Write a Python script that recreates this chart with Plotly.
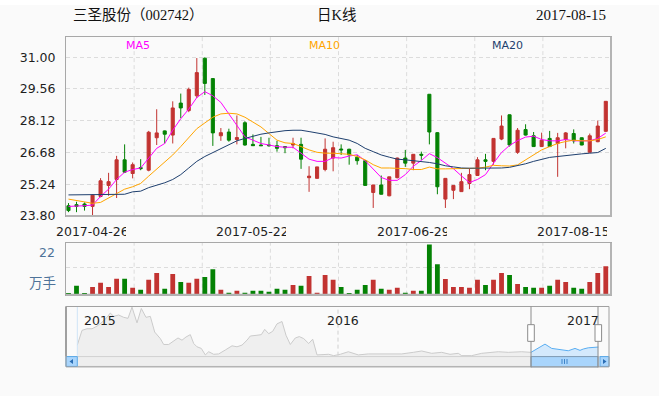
import plotly.graph_objects as go

# ---------------- data ----------------
opens = [24.27, 24.32, 24.35, 24.24, 24.69, 25.19, 25.46, 26.35, 25.73, 26.00,
         25.88, 27.35, 27.66, 27.47, 28.92, 28.58, 29.25, 30.95, 30.03, 27.44,
         27.61, 27.27, 28.03, 27.05, 27.02, 27.02, 26.99, 26.95, 27.02, 27.05,
         25.54, 25.51, 25.91, 26.43, 26.84, 26.83, 26.47, 26.31, 24.87, 25.21,
         24.72, 25.54, 26.43, 26.20, 26.60, 29.32, 27.58, 24.57, 24.97, 24.91,
         25.28, 25.64, 26.35, 26.28, 27.29, 28.39, 26.69, 27.72, 27.44, 26.95,
         27.32, 27.09, 27.27, 27.54, 27.35, 26.69, 27.17, 27.64]
highs = [24.39, 24.45, 24.42, 24.78, 25.52, 25.76, 26.53, 27.05, 26.23, 26.38,
         27.66, 28.64, 27.68, 29.00, 29.35, 29.62, 30.96, 30.99, 30.05, 27.79,
         27.76, 28.36, 28.10, 27.50, 27.39, 27.35, 27.21, 26.96, 27.35, 27.35,
         26.06, 26.03, 27.32, 27.17, 27.05, 26.85, 26.57, 26.33, 25.22, 25.64,
         25.58, 26.45, 26.80, 26.60, 26.72, 29.33, 27.61, 25.51, 25.19, 25.76,
         25.98, 26.47, 26.62, 27.33, 28.36, 28.40, 27.79, 27.96, 27.61, 27.58,
         27.66, 27.57, 27.61, 27.73, 27.36, 27.54, 28.13, 29.00]
lows = [23.98, 23.98, 24.05, 23.80, 24.65, 24.72, 24.62, 25.75, 25.51, 25.88,
        25.83, 27.02, 27.09, 27.09, 28.24, 28.51, 29.15, 29.29, 26.98, 27.21,
        27.17, 27.05, 26.99, 26.98, 26.98, 26.95, 26.72, 26.65, 26.87, 25.94,
        24.90, 25.51, 25.83, 25.83, 26.57, 26.13, 26.13, 25.19, 24.17, 24.78,
        24.70, 25.51, 26.03, 25.88, 26.35, 27.05, 24.79, 24.17, 24.57, 24.90,
        25.02, 25.62, 25.88, 26.13, 27.24, 26.95, 26.62, 27.45, 26.94, 26.94,
        26.94, 25.58, 26.87, 27.09, 27.01, 26.68, 27.15, 27.62]
closes = [24.05, 24.24, 24.24, 24.75, 25.40, 25.36, 26.35, 25.79, 26.13, 25.95,
          27.60, 27.57, 27.51, 28.70, 28.70, 29.54, 30.30, 29.81, 27.57, 27.58,
          27.24, 27.36, 27.02, 26.99, 26.99, 26.99, 26.87, 26.90, 27.09, 26.38,
          25.61, 26.03, 26.83, 26.90, 26.80, 26.57, 26.31, 25.19, 25.21, 24.79,
          25.58, 26.43, 26.20, 26.60, 26.56, 27.61, 25.13, 25.51, 25.19, 25.36,
          25.68, 26.35, 26.28, 27.32, 27.88, 27.02, 27.69, 27.47, 26.95, 27.24,
          26.95, 27.35, 27.57, 27.21, 27.02, 27.44, 27.88, 29.00]
volumes = [0.43, 3.9, 0.43, 3.4, 5.2, 3.4, 7.0, 7.0, 3.1, 2.2,
           6.6, 9.5, 2.6, 9.1, 5.6, 5.2, 7.0, 7.8, 11.2, 2.2,
           0.9, 1.7, 0.9, 1.7, 1.7, 1.3, 2.6, 2.2, 4.3, 3.9,
           8.2, 0.9, 8.6, 6.5, 3.4, 0.43, 2.2, 4.3, 6.5, 2.6,
           2.2, 3.0, 0.9, 1.7, 1.7, 22.0, 13.4, 6.9, 3.4, 3.4,
           3.0, 6.5, 4.3, 6.5, 9.5, 8.6, 4.7, 3.4, 3.0, 3.0,
           3.9, 6.5, 5.6, 3.0, 2.6, 5.6, 9.5, 12.5]
ma5 = [24.24, 24.24, 24.27, 24.30, 24.69, 25.02, 25.46, 25.79, 25.91, 25.98,
       26.43, 26.87, 27.09, 27.69, 28.21, 28.65, 29.17, 29.44, 29.25, 28.95,
       28.43, 27.91, 27.39, 27.24, 27.09, 27.02, 26.95, 26.92, 26.92, 26.65,
       26.38, 26.28, 26.28, 26.45, 26.43, 26.52, 26.58, 26.31, 25.91, 25.55,
       25.42, 25.42, 25.68, 26.06, 26.32, 26.63, 26.45, 26.20, 25.95, 25.62,
       25.32, 25.46, 25.68, 26.20, 26.68, 27.00, 27.22, 27.38, 27.42, 27.27,
       27.21, 27.21, 27.27, 27.21, 27.21, 27.21, 27.32, 27.56]
ma10 = [24.57, 24.50, 24.42, 24.38, 24.42, 24.62, 24.82, 25.02, 25.13, 25.28,
        25.61, 25.94, 26.28, 26.57, 26.95, 27.36, 27.76, 28.02, 28.28, 28.43,
        28.46, 28.43, 28.28, 28.06, 27.84, 27.54, 27.24, 27.12, 27.09, 26.95,
        26.80, 26.69, 26.65, 26.65, 26.62, 26.60, 26.50, 26.35, 26.13, 25.98,
        25.98, 25.98, 25.95, 25.91, 25.91, 26.02, 25.94, 25.94, 25.94, 25.94,
        25.94, 25.97, 26.02, 26.10, 26.08, 26.07, 26.12, 26.35, 26.57, 26.80,
        26.95, 27.09, 27.18, 27.24, 27.21, 27.21, 27.27, 27.39]
ma20 = [24.76, 24.76, 24.76, 24.76, 24.76, 24.76, 24.76, 24.79, 24.90, 24.93,
        25.09, 25.19, 25.31, 25.46, 25.68, 25.98, 26.28, 26.50, 26.68, 26.87,
        27.02, 27.21, 27.32, 27.42, 27.51, 27.57, 27.63, 27.67, 27.69, 27.69,
        27.63, 27.58, 27.50, 27.39, 27.32, 27.24, 27.09, 26.87, 26.72, 26.57,
        26.47, 26.38, 26.35, 26.32, 26.28, 26.23, 26.17, 26.08, 26.03, 25.98,
        25.97, 25.97, 25.97, 25.97, 25.98, 26.01, 26.08, 26.17, 26.28, 26.38,
        26.46, 26.50, 26.55, 26.59, 26.62, 26.65, 26.68, 26.87]

price_ticks = [23.80, 25.24, 26.68, 28.12, 29.56, 31.00]
date_labels = ["2017-04-26", "2017-05-22", "2017-06-29", "2017-08-15"]
date_label_idx = [0, 20, 40, 60]

# navigator (full history, trading-day index vs. price)
nav_x = [11.3, 16, 21, 26, 31, 36, 41, 44.3, 47.7, 52.7, 57.7, 62, 66, 71, 75.3, 80, 84.3,
         88.7, 94.3, 97.7, 102.7, 107.7, 112, 116, 120, 124.3, 127.7, 131, 135.3, 139.3,
         142.7, 147.7, 152.7, 159.3, 166, 171, 176, 181, 184.3, 191, 195.3, 198.7, 202.7,
         206.7, 211, 216, 220, 224.3, 229.3, 233.3, 237.7, 242.7, 246.7, 251, 259.3, 262.7,
         267.7, 274.3, 282.3, 292.3, 302.3, 314, 325.7, 335.7, 347.3, 355.7, 365.7, 375.7,
         384, 392.3, 395.7, 405.7, 415.7, 432.3, 442.3, 455.7, 465]
nav_y = [29.2, 41.2, 42.5, 42.5, 44.6, 47.8, 51.8, 55.3, 52.6, 53.7, 51.8, 51.0, 60.1, 47.3,
         59.0, 51.8, 52.6, 39.8, 34.5, 29.7, 29.7, 32.4, 35.0, 33.2, 35.8, 37.7, 30.5, 27.8,
         26.5, 21.2, 23.8, 21.7, 22.0, 25.2, 28.6, 27.8, 29.2, 33.2, 36.6, 37.2, 37.7, 42.0,
         38.5, 40.4, 46.5, 48.4, 37.2, 29.7, 35.0, 36.1, 34.5, 30.5, 34.0, 21.2, 21.2, 21.7,
         20.6, 21.7, 23.8, 21.2, 22.0, 22.0, 21.7, 22.0, 23.3, 24.4, 22.5, 23.3, 21.7, 22.5,
         20.6, 20.6, 22.5, 23.8, 23.3, 23.8, 23.3]
nav_sel_x = [465, 479, 485.7, 495.7, 502.3, 509, 514, 517.3, 522.3, 532.3]
nav_sel_y = [23.3, 30.0, 26.5, 25.2, 24.6, 26.5, 24.9, 26.0, 27.0, 27.6]
nav_years = ["2015", "2016", "2017"]

# ---------------- styling ----------------
W, H = 659, 396
def px(x): return x / W
def py(y): return 1 - y / H

RED = "#c23331"
GREEN = "#048204"
MA5C, MA10C, MA20C = "#ff00ff", "#ffa500", "#1e3f6e"
GRID = "#dcdcdc"
FRAME = "#a8a8a8"
BG = "#fafafa"
TXT = "#1e1e1e"
BLUE_TXT = "#4e7399"
DASH = "4px,3px"

n = len(closes)
idx = list(range(n))

fig = go.Figure()
fig.add_trace(go.Candlestick(
    x=idx, open=opens, high=highs, low=lows, close=closes,
    increasing=dict(line=dict(color=RED, width=1), fillcolor=RED),
    decreasing=dict(line=dict(color=GREEN, width=1), fillcolor=GREEN),
    whiskerwidth=0, xaxis="x", yaxis="y", showlegend=False, hoverinfo="skip"))
for vals, col in [(ma5, MA5C), (ma10, MA10C), (ma20, MA20C)]:
    fig.add_trace(go.Scatter(x=idx, y=vals, mode="lines", line=dict(color=col, width=1),
                             xaxis="x", yaxis="y", showlegend=False, hoverinfo="skip"))

vol_colors = [RED if c >= o else GREEN for o, c in zip(opens, closes)]
fig.add_trace(go.Bar(x=idx, y=volumes, width=0.6, marker=dict(color=vol_colors, line=dict(width=0)),
                     xaxis="x2", yaxis="y2", showlegend=False, hoverinfo="skip"))

fig.add_trace(go.Scatter(x=nav_x, y=nav_y, mode="lines", fill="tozeroy", fillcolor="#efefef",
                         line=dict(color="#cbcbcb", width=1), xaxis="x3", yaxis="y3",
                         showlegend=False, hoverinfo="skip"))
fig.add_trace(go.Scatter(x=nav_sel_x, y=nav_sel_y, mode="lines", fill="tozeroy", fillcolor="#d4e9fc",
                         line=dict(color="#5aaef2", width=1), xaxis="x3", yaxis="y3",
                         showlegend=False, hoverinfo="skip"))

xr = [-0.31, 67.65]
common_x = dict(range=xr, showgrid=False, zeroline=False, showticklabels=False,
                showline=True, mirror=True, linecolor=FRAME, linewidth=1, fixedrange=True)

fig.update_layout(
    width=W, height=H, autosize=False,
    margin=dict(l=0, r=0, t=0, b=0),
    paper_bgcolor=BG, plot_bgcolor=BG,
    boxgap=0.45,
    xaxis=dict(domain=[px(66), px(611)], anchor="y", rangeslider=dict(visible=False), **common_x),
    yaxis=dict(domain=[py(220), py(37.3)], range=[23.80, 31.93], anchor="x",
               tickvals=price_ticks, ticktext=[f"{v:.2f}" for v in price_ticks],
               showgrid=True, gridcolor=GRID, griddash=DASH, gridwidth=1, zeroline=False,
               showline=True, mirror=True, linecolor=FRAME, linewidth=1, ticks="",
               ticklabelstandoff=7, tickfont=dict(family="DejaVu Sans", size=12.5, color=TXT)),
    xaxis2=dict(domain=[px(66), px(611)], anchor="y2", **common_x),
    yaxis2=dict(domain=[py(300), py(247.3)], range=[0, 22.7], anchor="x2",
                tickvals=[11.9], showticklabels=False, showgrid=True, gridcolor=GRID,
                griddash=DASH, zeroline=False, showline=True, mirror=True,
                linecolor=FRAME, linewidth=1, ticks=""),
    xaxis3=dict(domain=[px(66), px(609)], anchor="y3", range=[0, 543], visible=False),
    yaxis3=dict(domain=[py(362.3), py(312)], anchor="x3", range=[20.4, 60.64], visible=False),
)

shapes = []
# white top strip
shapes.append(dict(type="rect", xref="paper", yref="paper", x0=0, x1=1, y0=py(5), y1=1,
                   fillcolor="#ffffff", line=dict(width=0), layer="below"))
# vertical dashed grid (8 divisions)
for k in range(1, 8):
    for xa, ya in [("x", "y"), ("x2", "y2")]:
        shapes.append(dict(type="line", xref=f"{xa} domain", yref=f"{ya} domain",
                           x0=k / 8, x1=k / 8, y0=0, y1=1,
                           line=dict(color=GRID, width=1, dash=DASH), layer="below"))
# heavier right / bottom edges of main & volume panels
for (top, bot) in [(37.3, 220), (247.3, 300)]:
    shapes.append(dict(type="line", xref="paper", yref="paper", x0=px(611), x1=px(611),
                       y0=py(bot), y1=py(top), line=dict(color="#b4b4b4", width=2)))
    shapes.append(dict(type="line", xref="paper", yref="paper", x0=px(66), x1=px(612),
                       y0=py(bot), y1=py(bot), line=dict(color="#b4b4b4", width=2)))

# navigator decorations
shapes.append(dict(type="line", xref="paper", yref="paper", x0=px(338), x1=px(338),
                   y0=py(362), y1=py(312), line=dict(color="#d0d0d0", width=1, dash=DASH)))
shapes.append(dict(type="line", xref="paper", yref="paper", x0=px(77.3), x1=px(77.3),
                   y0=py(362), y1=py(312), line=dict(color="#cfe4f7", width=1)))
# scrollbar track
shapes.append(dict(type="rect", xref="paper", yref="paper", x0=px(66), x1=px(609),
                   y0=py(373), y1=py(363), fillcolor="#eeeeee", line=dict(color="#d0d0d0", width=1)))
# scrollbar thumb
shapes.append(dict(type="rect", xref="paper", yref="paper", x0=px(531), x1=px(598),
                   y0=py(373.5), y1=py(363), fillcolor="#a9d5fc", line=dict(color="#7f9bb5", width=1)))
for gx in [562, 564.5, 567]:
    shapes.append(dict(type="line", xref="paper", yref="paper", x0=px(gx), x1=px(gx),
                       y0=py(370.5), y1=py(365.5), line=dict(color="#3d84c9", width=1)))
# arrow buttons
for (b0, b1) in [(66, 77.3), (600, 609)]:
    shapes.append(dict(type="rect", xref="paper", yref="paper", x0=px(b0), x1=px(b1),
                       y0=py(373), y1=py(363), fillcolor="#a9d5fc", line=dict(color="#5aa9e8", width=1)))
def tri(points):
    s = "M " + " L ".join(f"{px(a):.5f},{py(b):.5f}" for a, b in points) + " Z"
    return s
shapes.append(dict(type="path", xref="paper", yref="paper", path=tri([(73, 365.5), (69.5, 368), (73, 370.5)]),
                   fillcolor="#2a6db5", line=dict(width=0)))
shapes.append(dict(type="path", xref="paper", yref="paper", path=tri([(603, 365.5), (606.5, 368), (603, 370.5)]),
                   fillcolor="#2a6db5", line=dict(width=0)))
# navigator frame
shapes.append(dict(type="rect", xref="paper", yref="paper", x0=px(66), x1=px(609),
                   y0=py(373.5), y1=py(312), line=dict(color="#a0a0a0", width=1)))
shapes.append(dict(type="line", xref="paper", yref="paper", x0=px(66), x1=px(66),
                   y0=py(363), y1=py(312), line=dict(color="#a0a0a0", width=2)))
# selection outline
for sx in [531, 598]:
    shapes.append(dict(type="line", xref="paper", yref="paper", x0=px(sx), x1=px(sx),
                       y0=py(374), y1=py(312), line=dict(color="#8c8c8c", width=1)))
# handles
for sx in [531, 598.3]:
    shapes.append(dict(type="rect", xref="paper", yref="paper", x0=px(sx - 3.3), x1=px(sx + 3.3),
                       y0=py(347.5), y1=py(330.5), fillcolor="#ffffff", line=dict(color="#8c8c8c", width=1)))
fig.update_layout(shapes=shapes)

ann = []
def A(text, x, y, xanchor="center", size=12.5, color=TXT, family="DejaVu Sans", xref="paper",
      xshift=0, width=None):
    d = dict(text=text, x=x, y=y, xref=xref, yref="paper", xanchor=xanchor, yanchor="middle",
             showarrow=False, xshift=xshift,
             font=dict(family=family, size=size, color=color))
    if width is not None:
        d["width"] = width
        d["align"] = "left"
    ann.append(d)

SERIF_CJK = "Liberation Serif, Noto Sans CJK SC"
A("三圣股份（002742）", px(71), py(15.5), "left", 14.5, "#111111", SERIF_CJK)
A("日K线", px(336.5), py(15.5), "center", 14.5, "#111111", SERIF_CJK)
A("2017-08-15", px(608), py(15.5), "right", 15, "#111111", SERIF_CJK)
A("MA5", px(138), py(46), "center", 11, MA5C)
A("MA10", px(324), py(46), "center", 11, MA10C)
A("MA20", px(507.5), py(46), "center", 11, MA20C)
for lab, i in zip(date_labels, date_label_idx):
    A(lab, i, py(236), "left", 12.5, TXT, xref="x", xshift=-14.5, width=70)
A("22", px(57), py(256.7), "right", 12.5, BLUE_TXT)
A("万手", px(58), py(287), "right", 13.5, BLUE_TXT, "Noto Sans CJK SC")
for lab, lx in zip(nav_years, [82, 325, 565]):
    A(lab, px(lx), py(326), "left", 12.5, TXT)
fig.update_layout(annotations=ann)

fig.write_html("out.html")
